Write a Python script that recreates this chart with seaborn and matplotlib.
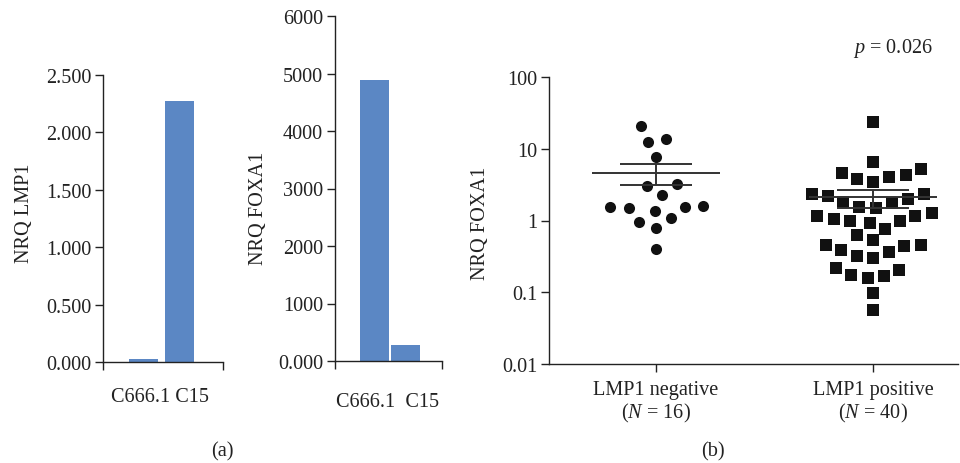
import numpy as np
import pandas as pd
import matplotlib
matplotlib.use('Agg')
import matplotlib.pyplot as plt
import seaborn as sns

# panel (a): cell lines
cell_lines = ['C666.1', 'C15']
nrq_lmp1 = [0.03, 2.27]
nrq_foxa1_cells = [4890, 280]
lmp1_ticks = [0.0, 0.5, 1.0, 1.5, 2.0, 2.5]
foxa1_ticks = [0, 1000, 2000, 3000, 4000, 5000, 6000]
foxa1_ticklabels = ['0.000', '1000', '2000', '3000', '4000', '5000', '6000']

# panel (b): tumour samples
groups = ['LMP1 negative', 'LMP1 positive']
group_ticklabels = ['LMP1 negative\n($N$ = 16)', 'LMP1 positive\n($N$ = 40)']
lmp1_negative = [21.0, 12.6, 13.7, 7.6, 3.2, 3.06, 2.27, 1.59, 1.56, 1.37,
                 1.49, 1.56, 1.07, 0.94, 0.78, 0.40]
lmp1_positive = [23.4, 6.47, 5.22, 4.08, 3.75, 4.31, 4.59, 3.47, 2.34, 2.0,
                 1.79, 2.17, 2.32, 1.75, 1.56, 1.49, 1.26, 1.16, 0.995, 0.995,
                 0.93, 1.05, 1.15, 0.77, 0.63, 0.54, 0.456, 0.456, 0.39, 0.445,
                 0.36, 0.30, 0.32, 0.176, 0.167, 0.204, 0.216, 0.158, 0.098, 0.057]
log_ticks = [0.01, 0.1, 1, 10, 100]
log_ticklabels = ['0.01', '0.1', '1', '10', '100']
p_label = '$p$ = 0.026'

bar_color = '#5B87C4'
W, H = 960, 464
FS = 14.6

sns.set_style('ticks')
plt.rcParams['font.family'] = ['Liberation Serif', 'DejaVu Serif']
plt.rcParams['mathtext.fontset'] = 'custom'
plt.rcParams['mathtext.rm'] = 'Liberation Serif'
plt.rcParams['mathtext.it'] = 'Liberation Serif:italic'
plt.rcParams['font.size'] = FS
plt.rcParams['axes.linewidth'] = 1.0
plt.rcParams['axes.edgecolor'] = '#222222'
plt.rcParams['xtick.color'] = '#222222'
plt.rcParams['ytick.color'] = '#222222'
plt.rcParams['text.color'] = '#222222'

fig = plt.figure(figsize=(W / 100, H / 100), dpi=100)


def px_axes(left, top, right, bottom):
    return fig.add_axes([left / W, 1 - bottom / H, (right - left) / W, (bottom - top) / H])


def style(ax):
    sns.despine(ax=ax)
    ax.tick_params(axis='both', length=5.5, width=1.0, labelsize=FS, pad=3)


# --- bar chart: LMP1
ax1 = px_axes(103, 76, 223, 363)
sns.barplot(x=cell_lines, y=nrq_lmp1, color=bar_color, saturation=1, width=0.8,
            linewidth=0, ax=ax1)
ax1.set_ylim(0, 2.5)
ax1.set_yticks(lmp1_ticks)
ax1.set_yticklabels(['{:.3f}'.format(t) for t in lmp1_ticks])
ax1.set_xlim(-1.125, 2.21)
ax1.set_xticks(ax1.get_xlim())
ax1.set_xticklabels(['', ''])
style(ax1)

# --- bar chart: FOXA1
ax2 = px_axes(335, 17, 442, 362)
sns.barplot(x=cell_lines, y=nrq_foxa1_cells, color=bar_color, saturation=1, width=0.935,
            linewidth=0, ax=ax2)
ax2.set_ylim(0, 6000)
ax2.set_yticks(foxa1_ticks)
ax2.set_yticklabels(foxa1_ticklabels)
ax2.set_xlim(-1.274, 2.177)
ax2.set_xticks(ax2.get_xlim())
ax2.set_xticklabels(['', ''])
style(ax2)

# --- scatter: FOXA1 by LMP1 status
ax3 = px_axes(549, 78, 958, 365)
ax3.set_yscale('log')
df = pd.DataFrame({
    'group': [groups[0]] * len(lmp1_negative) + [groups[1]] * len(lmp1_positive),
    'nrq': lmp1_negative + lmp1_positive,
})
# a transparent, thick edge keeps the swarm spacing wider than the marks
sns.swarmplot(data=df[df['group'] == groups[0]], x='group', y='nrq', order=groups,
              color='#111111', marker='o', size=8.0, linewidth=4.5,
              edgecolor=(1, 1, 1, 0), ax=ax3)
sns.swarmplot(data=df[df['group'] == groups[1]], x='group', y='nrq', order=groups,
              color='#111111', marker='s', size=8.6, linewidth=2.8,
              edgecolor=(1, 1, 1, 0), ax=ax3)

stats = df.groupby('group')['nrq'].agg(['mean', 'sem']).reindex(groups)
for i, (m, se) in enumerate(zip(stats['mean'], stats['sem'])):
    ax3.hlines(m, i - 0.295, i + 0.295, color='#333333', lw=1.4, zorder=4)
    ax3.hlines([m - se, m + se], i - 0.165, i + 0.165, color='#333333', lw=1.4, zorder=4)
    ax3.vlines(i, m - se, m + se, color='#333333', lw=1.4, zorder=4)

ax3.set_ylim(0.01, 100)
ax3.set_yticks(log_ticks)
ax3.set_yticklabels(log_ticklabels)
ax3.yaxis.set_minor_locator(matplotlib.ticker.NullLocator())
ax3.set_xlim(-0.493, 1.39)
ax3.set_xticks([0, 1])
ax3.set_xticklabels(group_ticklabels, linespacing=1.15)
ax3.set_xlabel('')
ax3.set_ylabel('')
style(ax3)
ax3.tick_params(axis='x', pad=6)


def fig_text(x, y, s, **kw):
    fig.text(x / W, 1 - y / H, s, ha='center', va='center', fontsize=FS, **kw)


fig_text(25, 213, 'NRQ LMP1', rotation=90)
fig_text(258, 208, 'NRQ FOXA1', rotation=90)
fig_text(480, 223, 'NRQ FOXA1', rotation=90)
fig_text(160, 398, 'C666.1 C15')
fig_text(388, 403, 'C666.1  C15')
fig_text(222, 452, '(a)')
fig_text(713, 452, '(b)')
fig_text(893, 48, p_label)

fig.savefig('out.png', dpi=100)
